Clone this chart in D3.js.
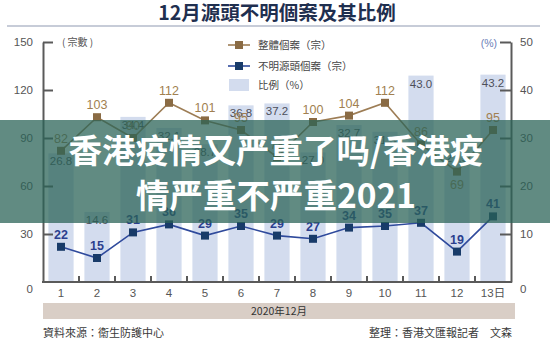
<!DOCTYPE html>
<html>
<head>
<meta charset="utf-8">
<script src="https://cdn.jsdelivr.net/npm/d3@7/dist/d3.min.js"></script>
<style>
  html, body { margin: 0; padding: 0; background: #ffffff; }
  svg { display: block; }
  .num { font-family: "Liberation Sans", Arial, sans-serif; }
  .cjk { font-family: "Noto Sans CJK TC", "Noto Sans CJK SC", sans-serif; }
</style>
</head>
<body>
<svg id="chart" width="550" height="345"></svg>
<script>
// December 2020: daily cases, cases of unknown source, and their share
const days = ["1", "2", "3", "4", "5", "6", "7", "8", "9", "10", "11", "12", "13日"];
const totalCases = [82, 103, 90, 112, 101, 95, 78, 100, 104, 112, 86, 69, 95];
const unknownCases = [22, 15, 31, 36, 29, 35, 29, 27, 34, 35, 37, 19, 41];
const unknownRatio = [26.8, 14.6, 34.4, 32.1, 28.7, 36.8, 37.2, 27.0, 32.7, 31.3, 43.0, 27.5, 43.2];
const countTicks = [0, 30, 60, 90, 120, 150];
const ratioTicks = [0, 10, 20, 30, 40, 50];

const svg = d3.select("#chart");
const W = 550;

const plot = { left: 43, right: 511, top: 42, bottom: 282 };

const x = d3.scaleBand().domain(days)
  .range([plot.left, plot.right])
  .paddingInner(0.3).paddingOuter(0.15);
const yCount = d3.scaleLinear().domain([0, 150]).range([plot.bottom, plot.top]);
const yRatio = d3.scaleLinear().domain([0, 50]).range([plot.bottom, plot.top]);
const cx = d => x(d) + x.bandwidth() / 2;

const C = {
  bar: "#d3dcee",
  barText: "#4d4f5a",
  total: "#9d7d55",
  totalMark: "#8a6b44",
  unknown: "#2f4a9c",
  unknownMark: "#183b69",
  axis: "#5a5a5a",
  tick: "#555"
};

// Title
svg.append("text")
  .attr("class", "cjk")
  .attr("x", 277).attr("y", 20)
  .attr("text-anchor", "middle")
  .attr("font-size", 19.5).attr("font-weight", 700)
  .attr("fill", "#1f2f4f")
  .text("12月源頭不明個案及其比例");
svg.append("line")
  .attr("x1", 7).attr("x2", 540).attr("y1", 26).attr("y2", 26)
  .attr("stroke", "#c7ccd8").attr("stroke-width", 2);

// Ratio bars
svg.append("g").selectAll("rect")
  .data(days)
  .join("rect")
  .attr("x", d => x(d))
  .attr("width", x.bandwidth())
  .attr("y", (d, i) => yRatio(unknownRatio[i]))
  .attr("height", (d, i) => plot.bottom - yRatio(unknownRatio[i]))
  .attr("fill", C.bar);

svg.append("g").selectAll("text")
  .data(days)
  .join("text")
  .attr("class", "num")
  .attr("x", d => cx(d))
  .attr("y", (d, i) => yRatio(unknownRatio[i]) + 12)
  .attr("text-anchor", "middle")
  .attr("font-size", 11.5)
  .attr("fill", C.barText)
  .text((d, i) => unknownRatio[i].toFixed(1));

// Lines
const lineOf = values => d3.line()
  .x((d, i) => cx(days[i]))
  .y(d => yCount(d))(values);

svg.append("path")
  .attr("d", lineOf(totalCases))
  .attr("fill", "none").attr("stroke", C.total).attr("stroke-width", 1.6);
svg.append("path")
  .attr("d", lineOf(unknownCases))
  .attr("fill", "none").attr("stroke", C.unknown).attr("stroke-width", 1.6);

const ms = 8;
svg.append("g").selectAll("rect")
  .data(totalCases)
  .join("rect")
  .attr("x", (d, i) => cx(days[i]) - ms / 2)
  .attr("y", d => yCount(d) - ms / 2)
  .attr("width", ms).attr("height", ms)
  .attr("fill", C.totalMark);
svg.append("g").selectAll("rect")
  .data(unknownCases)
  .join("rect")
  .attr("x", (d, i) => cx(days[i]) - ms / 2)
  .attr("y", d => yCount(d) - ms / 2)
  .attr("width", ms).attr("height", ms)
  .attr("fill", C.unknownMark);

// Value labels
svg.append("g").selectAll("text")
  .data(totalCases)
  .join("text")
  .attr("class", "num")
  .attr("x", (d, i) => cx(days[i]))
  .attr("y", (d, i) => i === 11 ? yCount(d) + 17 : yCount(d) - 8)
  .attr("text-anchor", "middle")
  .attr("font-size", 12.5)
  .attr("fill", "#a17f50")
  .text(d => d);
svg.append("g").selectAll("text")
  .data(unknownCases)
  .join("text")
  .attr("class", "num")
  .attr("x", (d, i) => cx(days[i]))
  .attr("y", d => yCount(d) - 8)
  .attr("text-anchor", "middle")
  .attr("font-size", 12.5).attr("font-weight", 700)
  .attr("fill", "#2b3f8e")
  .text(d => d);

// Axes
const leftAxis = svg.append("g")
  .attr("transform", `translate(${plot.left},0)`)
  .call(d3.axisLeft(yCount).tickValues(countTicks).tickSize(-10).tickSizeOuter(0).tickPadding(10));
const rightAxis = svg.append("g")
  .attr("transform", `translate(${plot.right},0)`)
  .call(d3.axisRight(yRatio).tickValues(ratioTicks).tickSize(-11).tickSizeOuter(0).tickPadding(9));
[leftAxis, rightAxis].forEach(g => {
  g.select(".domain").attr("stroke", C.axis).attr("stroke-width", 2);
  g.selectAll(".tick line").attr("stroke", C.axis).attr("stroke-width", 2);
  g.selectAll(".tick text")
    .attr("class", "num")
    .attr("font-size", 11.5).attr("fill", C.tick);
});
leftAxis.selectAll(".tick").filter(d => d === 0).select("line").remove();
rightAxis.selectAll(".tick").filter(d => d === 0).select("line").remove();
leftAxis.selectAll(".tick").filter(d => d === 0).select("text").attr("dy", "0.9em");
rightAxis.selectAll(".tick").filter(d => d === 0).select("text").attr("dy", "0.9em");

const bottomAxis = svg.append("g")
  .attr("transform", `translate(0,${plot.bottom})`)
  .call(d3.axisBottom(x).tickSize(0).tickPadding(7));
bottomAxis.select(".domain").remove();
bottomAxis.selectAll(".tick text")
  .attr("font-family", "'Liberation Sans', 'Noto Sans CJK TC', sans-serif")
  .attr("font-size", 11.5).attr("fill", C.tick);

svg.append("line")
  .attr("x1", plot.left - 1).attr("x2", plot.right + 1)
  .attr("y1", plot.bottom).attr("y2", plot.bottom)
  .attr("stroke", C.axis).attr("stroke-width", 2);
svg.append("g").selectAll("line")
  .data(days.slice(1))
  .join("line")
  .attr("x1", d => x(d) - x.step() * x.paddingInner() / 2)
  .attr("x2", d => x(d) - x.step() * x.paddingInner() / 2)
  .attr("y1", plot.bottom).attr("y2", plot.bottom - 6)
  .attr("stroke", C.axis).attr("stroke-width", 2);

// Axis units
svg.append("text").attr("class", "cjk")
  .attr("x", 62).attr("y", 46)
  .attr("font-size", 10).attr("fill", "#555")
  .text("( 宗數 )");
svg.append("text").attr("class", "num")
  .attr("x", 497).attr("y", 47).attr("text-anchor", "end")
  .attr("font-size", 10.5).attr("fill", "#6c80b8")
  .text("(%)");

// Legend
const legend = svg.append("g").attr("class", "cjk");
legend.append("line").attr("x1", 228).attr("x2", 250).attr("y1", 45).attr("y2", 45)
  .attr("stroke", C.total).attr("stroke-width", 1.6);
legend.append("rect").attr("x", 235).attr("y", 41).attr("width", ms).attr("height", ms)
  .attr("fill", C.totalMark);
legend.append("line").attr("x1", 228).attr("x2", 250).attr("y1", 66).attr("y2", 66)
  .attr("stroke", C.unknown).attr("stroke-width", 1.6);
legend.append("rect").attr("x", 235).attr("y", 62).attr("width", ms).attr("height", ms)
  .attr("fill", C.unknownMark);
legend.append("rect").attr("x", 229).attr("y", 79).attr("width", 20).attr("height", 12)
  .attr("fill", C.bar);
[["整體個案（宗）", 45], ["不明源頭個案（宗）", 66], ["比例（%）", 85]].forEach(([t, yy]) => {
  legend.append("text")
    .attr("x", 258).attr("y", yy + 4)
    .attr("font-size", 10.5).attr("fill", "#444")
    .text(t);
});

// Month band and footer
svg.append("rect")
  .attr("x", 43).attr("y", 303).attr("width", 472).attr("height", 16)
  .attr("fill", "#d9cec6");
svg.append("text").attr("class", "cjk")
  .attr("x", 279).attr("y", 315).attr("text-anchor", "middle")
  .attr("font-size", 10.5).attr("fill", "#333")
  .text("2020年12月");
svg.append("text").attr("class", "cjk")
  .attr("x", 43).attr("y", 337)
  .attr("font-size", 11).attr("fill", "#3a3a3a")
  .text("資料來源：衞生防護中心");
svg.append("text").attr("class", "cjk")
  .attr("x", 512).attr("y", 337).attr("text-anchor", "end")
  .attr("font-size", 11).attr("fill", "#3a3a3a")
  .text("整理：香港文匯報記者　文森");

// Headline banner
svg.append("rect")
  .attr("x", 0).attr("y", 120).attr("width", W).attr("height", 103)
  .attr("fill", "rgb(42,98,86)").attr("fill-opacity", 0.74);
const banner = svg.append("g")
  .attr("font-family", "'Noto Sans CJK SC', sans-serif")
  .attr("font-weight", 700).attr("font-size", 33.5)
  .attr("fill", "#ffffff").attr("text-anchor", "middle");
banner.append("text").attr("x", 276).attr("y", 163).text("香港疫情又严重了吗/香港疫");
banner.append("text").attr("x", 276).attr("y", 208).text("情严重不严重2021");
</script>
</body>
</html>
